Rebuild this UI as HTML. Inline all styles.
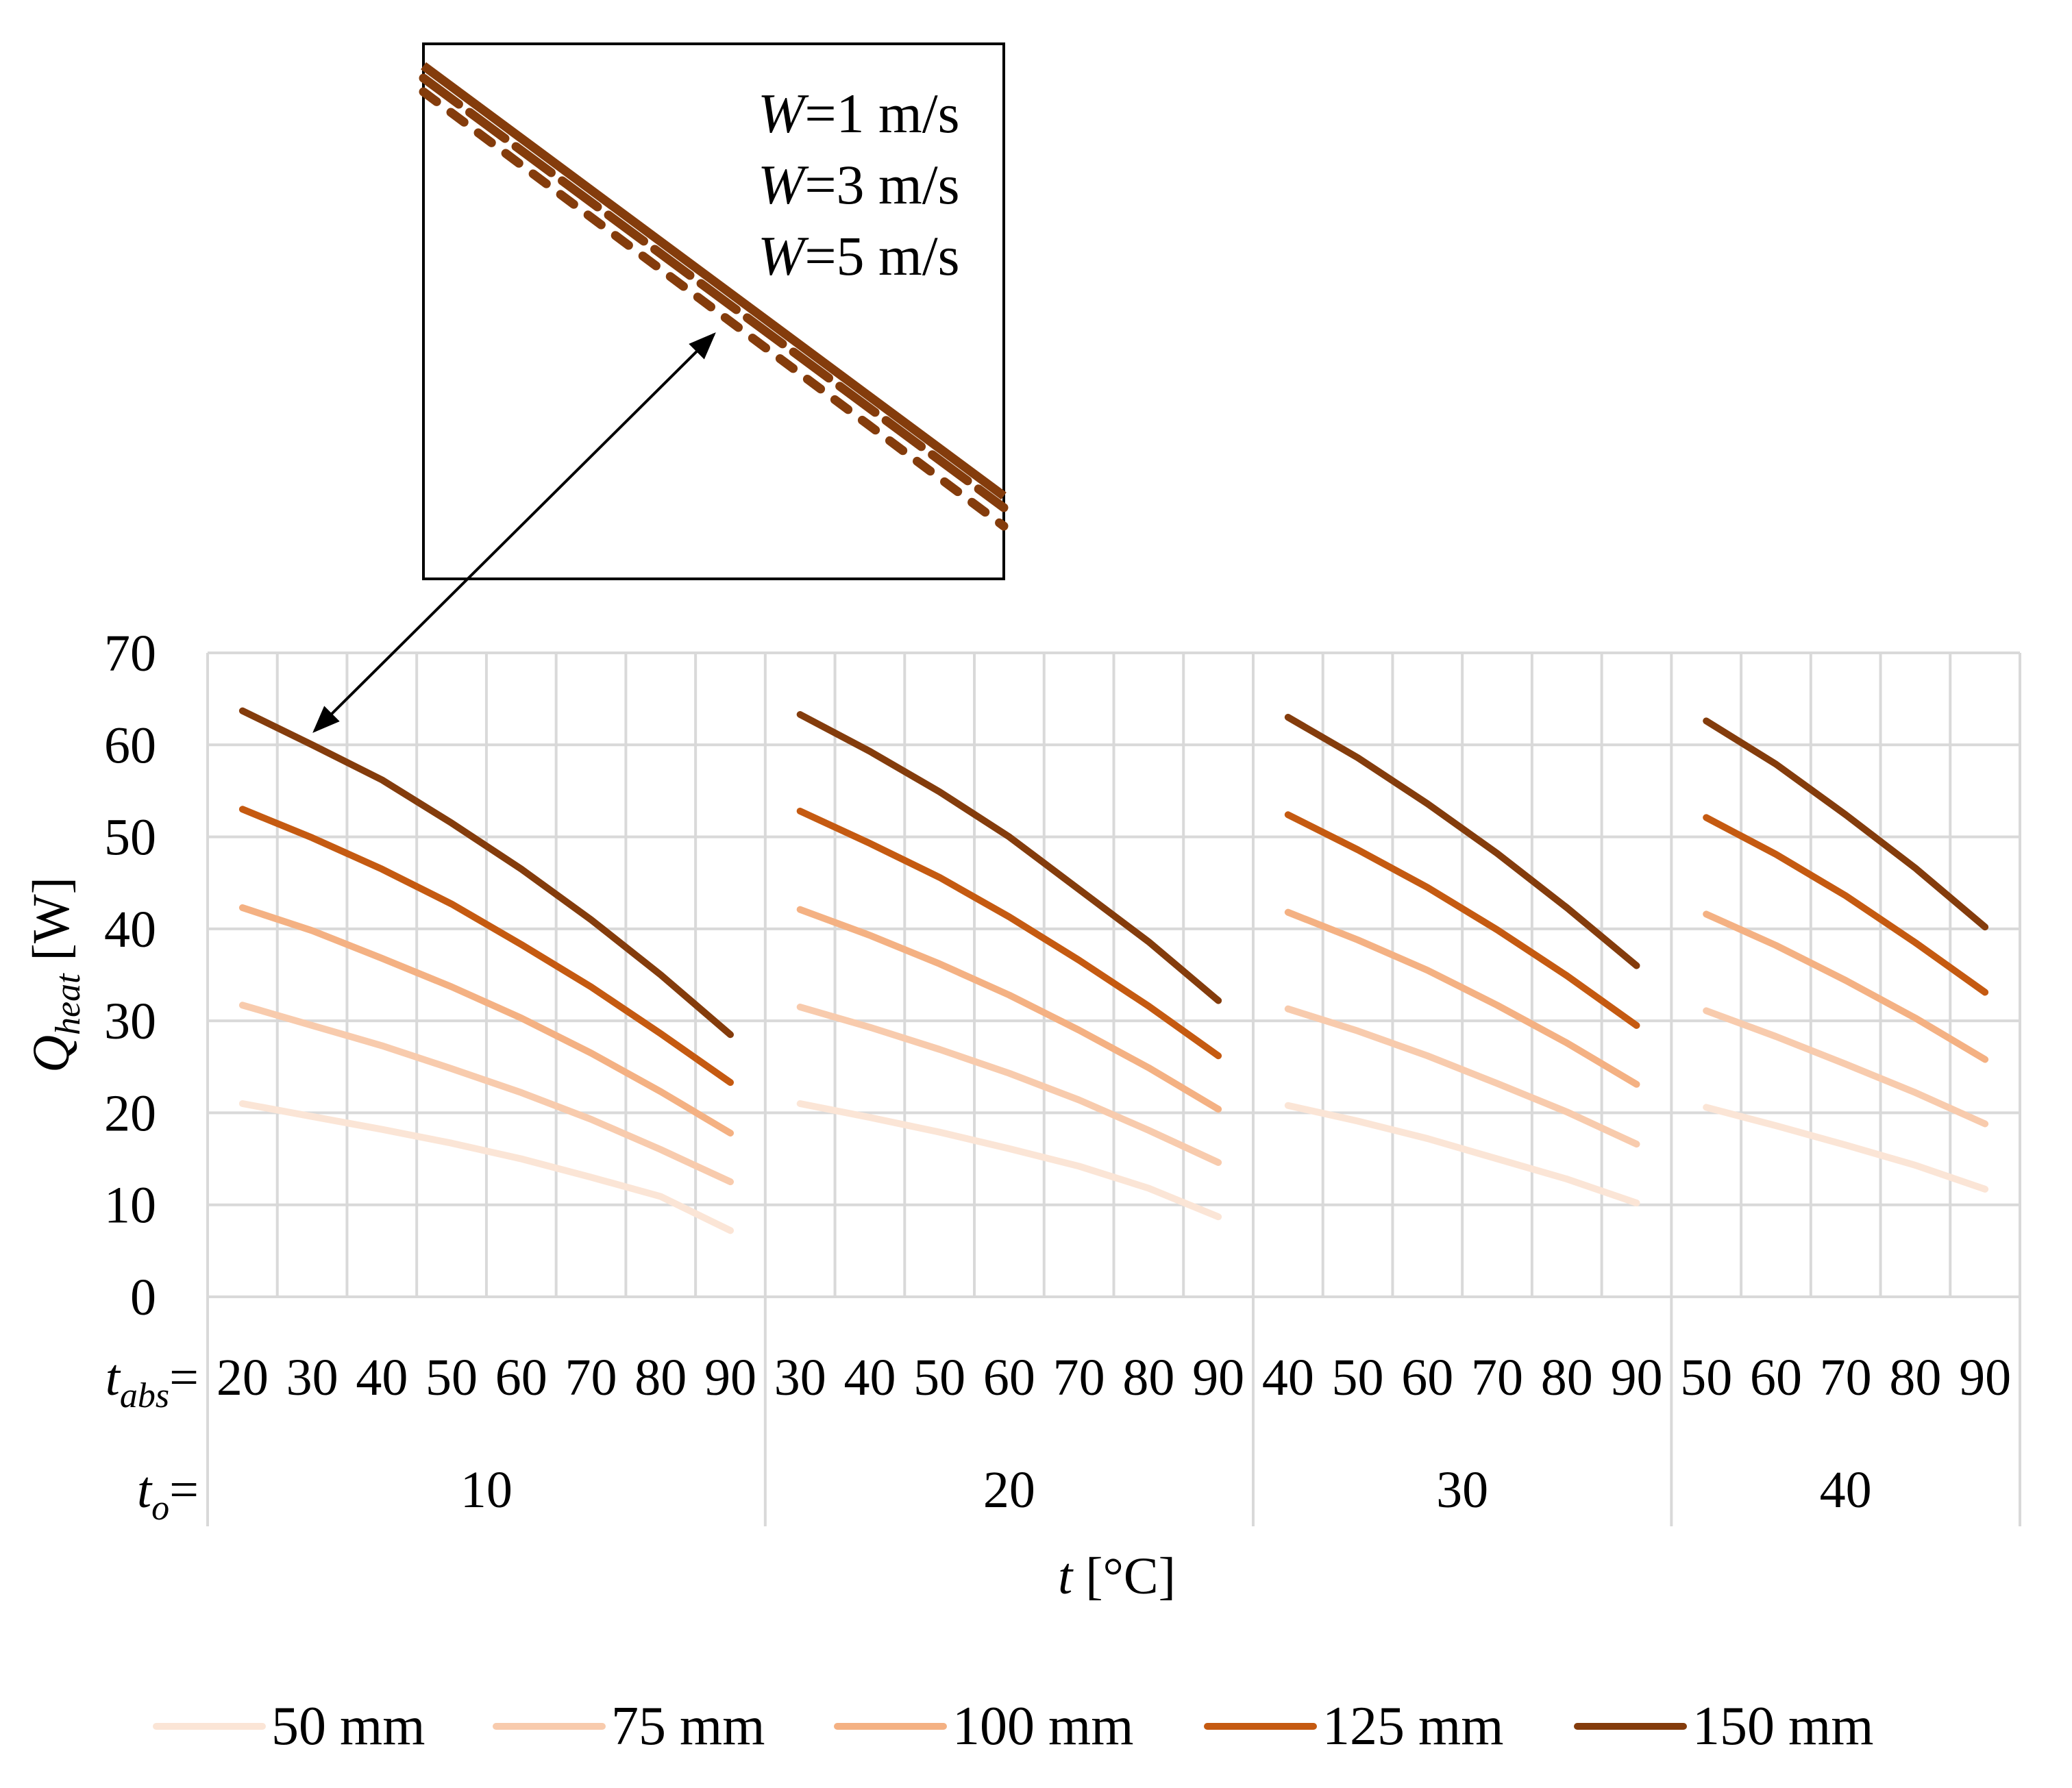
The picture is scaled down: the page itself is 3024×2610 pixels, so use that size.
<!DOCTYPE html>
<html><head><meta charset="utf-8"><style>
html,body{margin:0;padding:0;background:#fff}
svg{display:block}
text{font-family:"Liberation Serif",serif;fill:#000}
</style></head><body>
<svg id="chart" width="3024" height="2610" viewBox="0 0 3024 2610" xmlns="http://www.w3.org/2000/svg">
<g id="grid"></g>
<g id="series"></g>
<g id="labels"></g>
<text transform="translate(100,1423) rotate(-90)" text-anchor="middle" font-size="76"><tspan font-style="italic">Q</tspan><tspan font-style="italic" font-size="52" dy="16">heat</tspan><tspan dy="-16"> [W]</tspan></text>
<text x="1630" y="2326" text-anchor="middle" font-size="76"><tspan font-style="italic">t</tspan> [°C]</text>
<text x="290" y="2036" text-anchor="end" font-size="76"><tspan font-style="italic">t</tspan><tspan font-style="italic" font-size="52" dy="18">abs</tspan><tspan dy="-18">=</tspan></text>
<text x="290" y="2200" text-anchor="end" font-size="76"><tspan font-style="italic">t</tspan><tspan font-style="italic" font-size="52" dy="18">o</tspan><tspan dy="-18">=</tspan></text>
<g>
<rect x="618" y="64" width="847" height="781" fill="none" stroke="#000" stroke-width="4"/>
<line x1="618" y1="96" x2="1465" y2="724" stroke="#843c0c" stroke-width="13"/>
<line x1="618" y1="114" x2="1465" y2="741" stroke="#843c0c" stroke-width="13" stroke-dasharray="64,20" stroke-linecap="round"/>
<line x1="618" y1="134" x2="1465" y2="768" stroke="#843c0c" stroke-width="13" stroke-dasharray="24,26" stroke-linecap="round"/>
<text x="1106" y="193" font-size="82"><tspan font-style="italic">W</tspan>=1 m/s</text>
<text x="1106" y="297" font-size="82"><tspan font-style="italic">W</tspan>=3 m/s</text>
<text x="1106" y="401" font-size="82"><tspan font-style="italic">W</tspan>=5 m/s</text>
</g>
<defs><marker id="ah" markerWidth="10" markerHeight="8" refX="9" refY="4" orient="auto-start-reverse" markerUnits="strokeWidth"><path d="M0,0 L10,4 L0,8 z" fill="#000"/></marker></defs>
<line x1="1042" y1="488" x2="459" y2="1067" stroke="#000" stroke-width="4" marker-start="url(#ah)" marker-end="url(#ah)"/>
<g id="legend"></g>
</svg>
<script>
const groupLabels = ["10","20","30","40"];
const tabsLabels = [[20,30,40,50,60,70,80,90],[30,40,50,60,70,80,90],[40,50,60,70,80,90],[50,60,70,80,90]];
const seriesNames = ["50 mm","75 mm","100 mm","125 mm","150 mm"];
const seriesColors = ["#fbe5d6","#f8cbad","#f4b183","#c55a11","#843c0c"];
const s50 = [[21.0,19.6,18.2,16.7,15.0,13.0,10.9,7.2],[21.0,19.5,17.9,16.1,14.2,11.8,8.7],[20.8,19.1,17.2,15.0,12.8,10.2],[20.6,18.6,16.5,14.3,11.7]];
const s75 = [[31.7,29.5,27.3,24.8,22.2,19.3,16.0,12.5],[31.5,29.3,26.9,24.3,21.4,18.1,14.6],[31.3,28.9,26.2,23.2,20.1,16.6],[31.1,28.3,25.3,22.2,18.8]];
const s100 = [[42.3,39.8,36.8,33.7,30.3,26.5,22.3,17.8],[42.1,39.3,36.2,32.8,29.0,24.9,20.4],[41.8,38.8,35.5,31.7,27.6,23.1],[41.6,38.2,34.4,30.3,25.8]];
const s125 = [[53.0,49.9,46.5,42.7,38.3,33.7,28.6,23.3],[52.8,49.3,45.6,41.3,36.6,31.6,26.2],[52.4,48.6,44.5,39.9,34.9,29.5],[52.1,48.1,43.6,38.5,33.1]];
const s150 = [[63.7,60.0,56.2,51.5,46.5,41.0,35.0,28.5],[63.3,59.3,54.9,50.0,44.3,38.6,32.2],[63.0,58.6,53.6,48.2,42.3,36.0],[62.6,57.9,52.4,46.6,40.2]];
const yTicks = [0,10,20,30,40,50,60,70];

const NS="http://www.w3.org/2000/svg";
const L=303,R=2948,T=953,B=1893,BOT=2228;
const nCat = tabsLabels.reduce((a,g)=>a+g.length,0);
const cw=(R-L)/nCat;
const y=v=>B-(v/70)*(B-T);
const x=i=>L+cw*(i+0.5);
function mk(tag,attrs,parent){const e=document.createElementNS(NS,tag);for(const k in attrs)e.setAttribute(k,attrs[k]);parent.appendChild(e);return e;}
const grid=document.getElementById('grid'),ser=document.getElementById('series'),lab=document.getElementById('labels'),leg=document.getElementById('legend');
const gc="#d9d9d9";
yTicks.forEach(t=>{
  const ln=mk('line',{x1:L,x2:R,y1:y(t),y2:y(t),stroke:gc,'stroke-width':4},grid);
  
  
  const tx=mk('text',{x:228,y:y(t)+26,'text-anchor':'end','font-size':76},lab);
  tx.textContent=t;
  
  
});
for(let i=0;i<=nCat;i++){
  const ln=mk('line',{x1:L+cw*i,x2:L+cw*i,y1:T,y2:B,stroke:gc,'stroke-width':4},grid);
  
  
}
let idx=0;
const starts=[];
tabsLabels.forEach((g,gi)=>{
  starts.push(idx);
  const sep=mk('line',{x1:L+cw*idx,x2:L+cw*idx,y1:B,y2:BOT,stroke:gc,'stroke-width':4},grid);
  
  
  g.forEach((v,j)=>{
    const tx=mk('text',{x:x(idx+j),y:2036,'text-anchor':'middle','font-size':76},lab);
    tx.textContent=v;
    
    
  });
  const gt=mk('text',{x:L+cw*(idx+g.length/2),y:2200,'text-anchor':'middle','font-size':76},lab);
  gt.textContent=groupLabels[gi];
  
  
  idx+=g.length;
});
const endSep=mk('line',{x1:R,x2:R,y1:T,y2:BOT,stroke:gc,'stroke-width':4},grid);


const all=[s50,s75,s100,s125,s150];
all.forEach((s,si)=>{
  s.forEach((g,gi)=>{
    const pts=g.map((v,j)=>x(starts[gi]+j).toFixed(1)+','+y(v).toFixed(1)).join(' ');
    const pl=mk('polyline',{points:pts,fill:'none',stroke:seriesColors[si],'stroke-width':10,'stroke-linecap':'round','stroke-linejoin':'round'},ser);
    
    
  });
});
const legX=[228,724,1222,1762,2302];
seriesNames.forEach((n,i)=>{
  const ln=mk('line',{x1:legX[i],x2:legX[i]+155,y1:2520,y2:2520,stroke:seriesColors[i],'stroke-width':10,'stroke-linecap':'round'},leg);
  
  
  const tx=mk('text',{x:legX[i]+168,y:2546,'font-size':80},leg);
  tx.textContent=n;
  
  
});
</script>
</body></html>
